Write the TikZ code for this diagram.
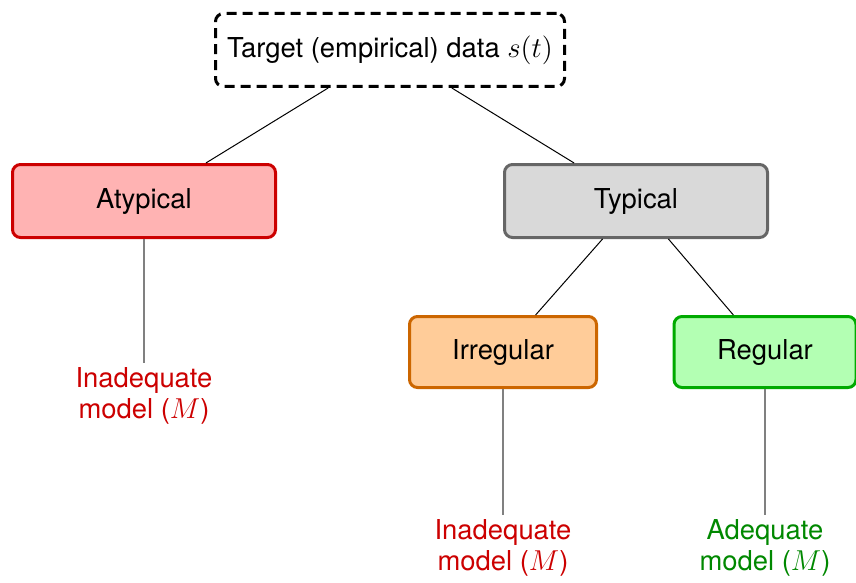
\documentclass[tikz,border=0pt]{standalone}
\usepackage{fontspec}
\setmainfont{TeX Gyre Heros}
\definecolor{atypfill}{HTML}{FFB3B3}
\definecolor{atypdraw}{HTML}{CC0000}
\definecolor{typfill}{HTML}{D9D9D9}
\definecolor{typdraw}{HTML}{666666}
\definecolor{irrfill}{HTML}{FFCC99}
\definecolor{irrdraw}{HTML}{CC6600}
\definecolor{regfill}{HTML}{B3FFB3}
\definecolor{regdraw}{HTML}{00AA00}
\definecolor{badtext}{HTML}{CC0000}
\definecolor{goodtext}{HTML}{008800}

\begin{document}
\begin{tikzpicture}[x=0.5pt, y=-0.5pt, font=\fontsize{13.7}{15.6}\selectfont,
  box/.style={rectangle, rounded corners=4pt, line width=1.5pt, minimum height=36.5pt, align=center},
  result/.style={align=center, inner sep=2pt},
  leaf/.style={draw=black!50, line width=0.8pt}]
  \useasboundingbox (0,0) rectangle (856,583);
  \node[box, draw=black, dash pattern=on 5pt off 3pt, minimum width=174.5pt] (target) at (390,50) {Target (empirical) data $s(t)$};
  \node[box, draw=atypdraw, fill=atypfill, minimum width=131.5pt] (atyp) at (144,201) {Atypical};
  \node[box, draw=typdraw, fill=typfill, minimum width=131.5pt] (typ) at (636,201) {Typical};
  \node[box, draw=irrdraw, fill=irrfill, minimum width=93.5pt, minimum height=35.5pt] (irr) at (503,352) {Irregular};
  \node[box, draw=regdraw, fill=regfill, minimum width=91pt, minimum height=35.5pt] (reg) at (765,352) {Regular};
  \node[result, text=badtext] (atypres) at (144,396) {Inadequate\\model ($M$)};
  \node[result, text=badtext] (irrres) at (503,548) {Inadequate\\model ($M$)};
  \node[result, text=goodtext] (regres) at (765,548) {Adequate\\model ($M$)};
  % Draw the branches
  \draw[line width=0.5pt] (target) -- (atyp);
  \draw[line width=0.5pt] (target) -- (typ);
  \draw[line width=0.5pt] (typ) -- (irr);
  \draw[line width=0.5pt] (typ) -- (reg);
  % Draw the outcomes
  \draw[leaf] (atyp) -- (atypres);
  \draw[leaf] (irr) -- (irrres);
  \draw[leaf] (reg) -- (regres);
\end{tikzpicture}
\end{document}
